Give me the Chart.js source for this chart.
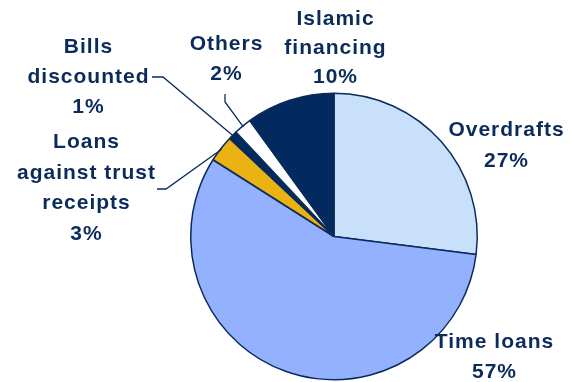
<!DOCTYPE html>
<html>
<head>
<meta charset="utf-8">
<title>Loans and advances by type</title>
<script src="https://cdn.jsdelivr.net/npm/chart.js@4.4.1/dist/chart.umd.min.js"></script>
<style>
    html, body { margin: 0; padding: 0; background: #ffffff; }
    #wrap { width: 573px; height: 382px; }
</style>
</head>
<body>
<div id="wrap"><canvas id="loan-chart" width="573" height="382"></canvas></div>
<script>
// share of loans by type, clockwise from 12 o'clock
const categories = ['Overdrafts', 'Time loans', 'Loans against trust receipts', 'Bills discounted', 'Others', 'Islamic financing'];
const shares = [27, 57, 3, 1, 2, 10];
const sliceColors = ['#c8e0fa', '#93b1fe', '#eab213', '#022a5e', '#ffffff', '#022a5e'];

const NAVY = '#0b2b5b';

// text lines for each slice label; x = centre of text, y = first baseline
const labelLines = [
    ['Overdrafts', '27%'],
    ['Time loans', '57%'],
    ['Loans', 'against trust', 'receipts', '3%'],
    ['Bills', 'discounted', '1%'],
    ['Others', '2%'],
    ['Islamic', 'financing', '10%']
];
const labelSpots = [
    { x: 506, y: 136, gap: 31 },
    { x: 494, y: 348, gap: 30 },
    { x: 86, y: 148, gap: 30.5 },
    { x: 88, y: 53, gap: 30 },
    { x: 226, y: 50, gap: 30 },
    { x: 335, y: 25, gap: 29 }
];
// leader lines: start point plus an elbow, ends on the slice edge
const leaders = {
    2: [[157, 189], [166, 189]],
    3: [[152, 77], [163, 77]],
    4: [[225, 94], [225, 102]]
};

const sliceLabels = {
    id: 'sliceLabels',
    afterDraw(chart) {
        const ctx = chart.ctx;
        const arcs = chart.getDatasetMeta(0).data;
        ctx.save();

        ctx.strokeStyle = NAVY;
        ctx.lineWidth = 1.3;
        Object.keys(leaders).forEach(function (k) {
            const arc = arcs[k];
            const mid = (arc.startAngle + arc.endAngle) / 2;
            const r = arc.outerRadius - 1;
            const pts = leaders[k];
            ctx.beginPath();
            ctx.moveTo(pts[0][0], pts[0][1]);
            ctx.lineTo(pts[1][0], pts[1][1]);
            ctx.lineTo(arc.x + Math.cos(mid) * r, arc.y + Math.sin(mid) * r);
            ctx.stroke();
        });

        ctx.fillStyle = NAVY;
        ctx.font = 'bold 21px "Liberation Sans", Arial, sans-serif';
        ctx.textAlign = 'center';
        ctx.textBaseline = 'alphabetic';
        ctx.letterSpacing = '1px';
        labelLines.forEach(function (lines, i) {
            const spot = labelSpots[i];
            lines.forEach(function (line, j) {
                ctx.fillText(line, spot.x + 0.5, spot.y + j * spot.gap);
            });
        });
        ctx.restore();
    }
};

new Chart(document.getElementById('loan-chart').getContext('2d'), {
    type: 'pie',
    plugins: [sliceLabels],
    data: {
        labels: categories,
        datasets: [{
            data: shares,
            backgroundColor: sliceColors,
            borderColor: NAVY,
            borderWidth: 1.5
        }]
    },
    options: {
        responsive: false,
        animation: false,
        devicePixelRatio: 1,
        layout: {
            padding: { left: 190, right: 95, top: 92, bottom: 1 }
        },
        plugins: {
            legend: { display: false },
            tooltip: { enabled: false },
            title: { display: false }
        }
    }
});
</script>
</body>
</html>
